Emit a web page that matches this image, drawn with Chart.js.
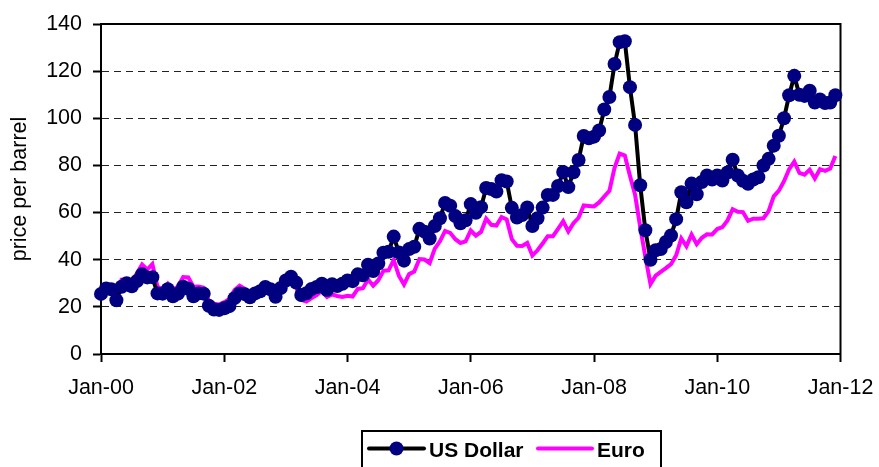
<!DOCTYPE html>
<html>
<head>
<meta charset="utf-8">
<script src="https://cdn.jsdelivr.net/npm/chart.js@4.4.1/dist/chart.umd.min.js"></script>
<style>
  html, body { margin: 0; padding: 0; background: #fff; }
  #wrap { width: 879px; height: 467px; }
</style>
</head>
<body>
<div id="wrap"><canvas id="oilChart" width="879" height="467"></canvas></div>
<script>
// monthly prices, Jan-00 .. Dec-11 (one row per year)
const usDollar = [
  25.5, 27.8, 27.5, 22.8, 28.5, 30.0, 28.7, 31.0, 33.8, 32.5, 32.6, 25.7,
  25.6, 27.5, 24.5, 25.6, 28.5, 27.7, 24.5, 25.7, 25.6, 20.5, 18.9, 18.7,
  19.4, 20.3, 23.7, 25.7, 25.4, 24.1, 25.7, 26.6, 28.4, 27.5, 24.3, 28.0,
  31.2, 32.8, 30.3, 25.0, 25.8, 27.6, 28.4, 29.8, 27.1, 29.6, 28.8, 29.8,
  31.2, 30.9, 33.8, 33.4, 37.9, 35.2, 38.4, 43.0, 43.4, 49.8, 43.1, 39.6,
  44.5, 45.5, 53.1, 51.9, 49.0, 54.3, 57.6, 64.1, 62.9, 58.5, 55.5, 56.7,
  63.6, 59.9, 62.3, 70.4, 70.0, 68.9, 73.7, 73.2, 62.0, 57.9, 59.0, 62.2,
  54.3, 57.6, 62.1, 67.5, 67.5, 71.3, 77.2, 70.8, 77.1, 82.3, 92.5, 91.5,
  92.2, 94.8, 103.7, 109.0, 123.0, 132.3, 132.7, 113.2, 97.2, 71.6, 52.5, 40.0,
  44.0, 44.5, 47.5, 50.3, 57.2, 68.6, 64.4, 72.3, 67.8, 73.0, 75.7, 74.0,
  75.7, 73.6, 77.0, 82.4, 75.7, 73.5, 72.2, 74.0, 75.0, 80.0, 82.8, 88.4,
  92.6, 100.0, 109.8, 118.0, 110.0, 109.5, 111.7, 106.7, 108.0, 106.5, 106.7, 109.8
];

const euro = [
  25.2, 28.3, 28.5, 24.1, 31.5, 31.6, 30.5, 34.3, 38.0, 35.8, 38.1, 28.6,
  27.3, 29.8, 26.9, 28.7, 32.6, 32.5, 28.5, 28.6, 28.1, 22.6, 21.3, 21.0,
  22.0, 23.3, 27.1, 29.0, 27.7, 25.2, 25.9, 27.2, 29.0, 28.0, 24.3, 27.5,
  29.4, 30.5, 28.1, 23.0, 22.3, 23.7, 25.0, 26.8, 24.2, 25.3, 24.6, 24.2,
  24.7, 24.4, 27.6, 27.9, 31.6, 29.0, 31.3, 35.3, 35.5, 39.9, 33.2, 29.5,
  33.9, 35.0, 40.3, 40.1, 38.6, 44.7, 47.8, 52.2, 51.4, 48.7, 47.1, 47.8,
  52.4, 50.2, 51.8, 57.4, 54.8, 54.5, 58.1, 57.1, 48.7, 45.9, 45.8, 47.1,
  41.8, 44.0, 46.9, 50.0, 50.0, 53.1, 56.3, 52.0, 55.5, 57.8, 63.0, 62.8,
  62.6, 64.3, 66.8, 69.2, 79.0, 85.0, 84.2, 75.6, 67.6, 53.8, 41.2, 29.7,
  33.2, 34.8, 36.4, 38.1, 41.9, 49.0, 45.7, 50.7, 46.6, 49.3, 50.8, 50.7,
  53.0, 53.8, 56.7, 61.4, 60.3, 60.2, 56.5, 57.4, 57.4, 57.6, 60.6, 66.9,
  69.3, 73.3, 78.4, 81.6, 76.8, 76.1, 78.2, 74.5, 78.4, 77.7, 78.7, 84.0
];

const xTickLabels = ['Jan-00', 'Jan-02', 'Jan-04', 'Jan-06', 'Jan-08', 'Jan-10', 'Jan-12'];
const seriesNames = ['US Dollar', 'Euro'];

const FONT = "'Liberation Sans', Arial, sans-serif";

// x = month number counted from Jan-00
const usdPoints = usDollar.map((v, i) => ({ x: i, y: v }));
const eurPoints = euro.map((v, i) => ({ x: i, y: v }));

// thin frame round the plot area, like the excel chart
const frame = {
  id: 'frame',
  beforeDatasetsDraw(chart) {
    const { ctx, chartArea: a } = chart;
    ctx.save();
    ctx.strokeStyle = '#000';
    ctx.lineWidth = 2;
    ctx.strokeRect(a.left, a.top, a.right - a.left, a.bottom - a.top);
    ctx.restore();
  }
};

// boxed legend under the axis
const boxLegend = {
  id: 'boxLegend',
  afterDraw(chart) {
    const ctx = chart.ctx;
    const top = 431, left = 362, right = 661, midY = 448.5;
    ctx.save();
    ctx.strokeStyle = '#000';
    ctx.lineWidth = 2;
    ctx.strokeRect(left, top, right - left, 60);

    ctx.lineCap = 'round';
    ctx.strokeStyle = '#000';
    ctx.lineWidth = 4;
    ctx.beginPath();
    ctx.moveTo(369, midY);
    ctx.lineTo(424, midY);
    ctx.stroke();
    ctx.fillStyle = '#000080';
    ctx.beginPath();
    ctx.arc(396.5, midY, 7, 0, Math.PI * 2);
    ctx.fill();

    ctx.strokeStyle = '#ff00ff';
    ctx.lineWidth = 4;
    ctx.beginPath();
    ctx.moveTo(538, midY);
    ctx.lineTo(592, midY);
    ctx.stroke();

    ctx.fillStyle = '#000';
    ctx.font = 'bold 21px ' + FONT;
    ctx.textBaseline = 'alphabetic';
    ctx.fillText(seriesNames[0], 429, 456.5);
    ctx.fillText(seriesNames[1], 597, 456.5);
    ctx.restore();
  }
};

new Chart(document.getElementById('oilChart'), {
  type: 'line',
  data: {
    datasets: [
      {
        label: seriesNames[0],
        data: usdPoints,
        borderColor: '#000',
        borderWidth: 4,
        pointRadius: 7,
        pointBackgroundColor: '#000080',
        pointBorderColor: '#000080',
        pointBorderWidth: 0,
        tension: 0,
        clip: false,
        order: 0
      },
      {
        label: seriesNames[1],
        data: eurPoints,
        borderColor: '#ff00ff',
        borderWidth: 4,
        pointRadius: 0,
        tension: 0,
        clip: false,
        order: 1
      }
    ]
  },
  options: {
    responsive: false,
    animation: false,
    layout: { padding: { top: 24, right: 38.5, left: 0, bottom: 0 } },
    plugins: {
      legend: { display: false },
      tooltip: { enabled: false }
    },
    scales: {
      x: {
        type: 'linear',
        min: 0,
        max: 144,
        afterFit: s => { s.height = 113; s.paddingLeft = 0; s.paddingRight = 0; },
        afterBuildTicks: s => { s.ticks = xTickLabels.map((t, i) => ({ value: i * 24 })); },
        ticks: {
          callback: (v) => xTickLabels[v / 24],
          font: { family: FONT, size: 21.5 },
          color: '#000',
          padding: 13,
          maxRotation: 0,
          autoSkip: false
        },
        grid: { drawOnChartArea: false, tickLength: 8, tickWidth: 2, tickColor: '#000' },
        border: { color: '#000', width: 2 }
      },
      y: {
        min: 0,
        max: 140,
        afterFit: s => { s.width = 101; },
        ticks: {
          stepSize: 20,
          font: { family: FONT, size: 21.5 },
          color: '#000',
          padding: 11
        },
        grid: { color: '#222', lineWidth: 1, tickLength: 8, tickWidth: 2, tickColor: '#000', tickBorderDash: [] },
        border: { color: '#000', width: 2, dash: [7, 5] },
        title: {
          display: true,
          text: 'price per barrel',
          font: { family: FONT, size: 21.5 },
          color: '#000',
          padding: { top: 7, bottom: 0 }
        }
      }
    }
  },
  plugins: [frame, boxLegend]
});
</script>
</body>
</html>
